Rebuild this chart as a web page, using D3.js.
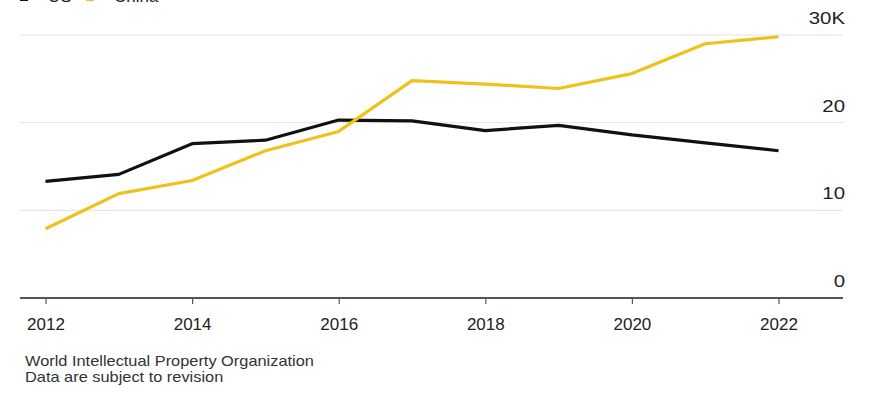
<!DOCTYPE html>
<html>
<head>
<meta charset="utf-8">
<script src="https://cdn.jsdelivr.net/npm/d3@7"></script>
<style>
  body { margin: 0; background: #fff; }
  svg { display: block; font-family: "Liberation Sans", Arial, sans-serif; }
  .grid line { stroke: #e3e3e3; stroke-width: 1; }
  .y-label { font-size: 17px; fill: #222; text-anchor: end; }
  .x-axis text { font-size: 17px; fill: #222; }
  .source { font-size: 14px; fill: #333; }
</style>
</head>
<body>
<div id="chart"></div>
<script>
  // Values (thousands)
  const years = [2012, 2013, 2014, 2015, 2016, 2017, 2018, 2019, 2020, 2021, 2022];
  const usValues = [13.3, 14.1, 17.6, 18.0, 20.3, 20.2, 19.1, 19.7, 18.6, 17.7, 16.8];
  const chinaValues = [7.9, 11.9, 13.4, 16.8, 19.0, 24.8, 24.4, 23.9, 25.6, 29.0, 29.8];
  const yTicks = [0, 10, 20, 30];
  const xTicks = [2012, 2014, 2016, 2018, 2020, 2022];
  const seriesNames = ['US', 'China'];
  const sourceLines = ['World Intellectual Property Organization', 'Data are subject to revision'];

  const width = 879, height = 396;
  const colors = { US: '#111111', China: '#efc21b' };

  const svg = d3.select('#chart').append('svg')
    .attr('width', width)
    .attr('height', height);

  const x = d3.scaleLinear().domain([2012, 2022]).range([45.5, 778.5]);
  const y = d3.scaleLinear().domain([0, 30]).range([298, 35]);
  const gridLeft = 20, gridRight = 843;

  // gridlines
  svg.append('g').attr('class', 'grid')
    .selectAll('line')
    .data(yTicks.filter(d => d > 0))
    .join('line')
    .attr('x1', gridLeft).attr('x2', gridRight)
    .attr('y1', d => y(d)).attr('y2', d => y(d));

  // y labels sit above the gridlines on the right (reference type is a bit wide)
  svg.append('g')
    .selectAll('text')
    .data(yTicks)
    .join('text')
    .attr('class', 'y-label')
    .attr('transform', d => `translate(845,${y(d) - 11}) scale(1.2,1)`)
    .text(d => d === 30 ? '30K' : d);

  // lines
  const line = d3.line()
    .x((d, i) => x(years[i]))
    .y(d => y(d));

  const series = [
    { name: 'US', values: usValues },
    { name: 'China', values: chinaValues }
  ];

  svg.append('g')
    .selectAll('path')
    .data(series)
    .join('path')
    .attr('fill', 'none')
    .attr('stroke', d => colors[d.name])
    .attr('stroke-width', 3.2)
    .attr('stroke-linejoin', 'round')
    .attr('d', d => line(d.values));

  // x axis
  const xAxis = svg.append('g')
    .attr('class', 'x-axis')
    .attr('transform', `translate(0,${y(0)})`)
    .call(d3.axisBottom(x).tickValues(xTicks).tickFormat(d3.format('d')).tickSize(6).tickSizeOuter(0).tickPadding(14));
  xAxis.select('.domain').remove();
  xAxis.selectAll('.tick line').attr('stroke', '#555').attr('stroke-width', 1.2);
  xAxis.selectAll('.tick text').attr('font-family', null).attr('font-size', null);
  xAxis.append('line')
    .attr('x1', gridLeft).attr('x2', gridRight)
    .attr('stroke', '#555').attr('stroke-width', 2);

  // legend (mostly cut off at the top edge, as in the reference)
  const legend = svg.append('g');
  const legendX = [20, 86];
  seriesNames.forEach((name, i) => {
    legend.append('line')
      .attr('x1', legendX[i]).attr('x2', legendX[i] + 8)
      .attr('y1', -3).attr('y2', -3)
      .attr('stroke', colors[name]).attr('stroke-width', 8);
    legend.append('text')
      .attr('x', legendX[i] + 28)
      .attr('y', 2)
      .attr('font-size', 17)
      .attr('fill', '#222')
      .text(name);
  });

  // source notes
  svg.append('g')
    .selectAll('text')
    .data(sourceLines)
    .join('text')
    .attr('class', 'source')
    .attr('transform', (d, i) => `translate(25,${366 + i * 16}) scale(1.17,1)`)
    .text(d => d);
</script>
</body>
</html>
